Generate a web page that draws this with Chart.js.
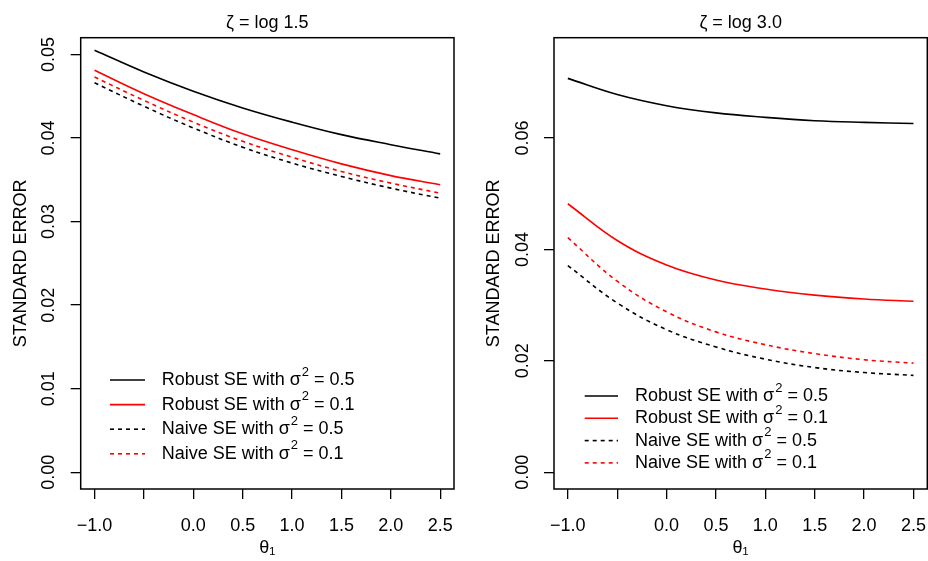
<!DOCTYPE html>
<html>
<head>
<meta charset="utf-8">
<script src="https://cdn.jsdelivr.net/npm/chart.js@4/dist/chart.umd.min.js"></script>
<style>
  html, body { margin: 0; padding: 0; background: #fff; }
  #wrap { position: relative; width: 928px; height: 561px; }
  .panel { position: absolute; top: 0; width: 464px; height: 561px; }
</style>
</head>
<body>
<div id="wrap">
  <div class="panel" style="left:0"><canvas id="c1" width="464" height="561"></canvas></div>
  <div class="panel" style="left:464px"><canvas id="c2" width="464" height="561"></canvas></div>
</div>
<script>
// ---------- data ----------
const thetaValues = [-1.0, -0.5, 0.0, 0.5, 1.0, 1.5, 2.0, 2.5];
const xTicks = [-1.0, -0.5, 0.0, 0.5, 1.0, 1.5, 2.0, 2.5];
const xTickLabels = ['\u22121.0', '', '0.0', '0.5', '1.0', '1.5', '2.0', '2.5'];
const seriesLabels = [
  'Robust SE with \u03c3\u00b2 = 0.5',
  'Robust SE with \u03c3\u00b2 = 0.1',
  'Naive SE with \u03c3\u00b2 = 0.5',
  'Naive SE with \u03c3\u00b2 = 0.1'
];
const panelTitles = ['\u03b6 = log 1.5', '\u03b6 = log 3.0'];
const xAxisTitle = '\u03b8\u2081';
const yAxisTitle = 'STANDARD ERROR';

// left panel (zeta = log 1.5)
const leftRobust05 = [0.0505, 0.0479, 0.0456, 0.0436, 0.0419, 0.0404, 0.0392, 0.0381];
const leftRobust01 = [0.0481, 0.0453, 0.0428, 0.0405, 0.0386, 0.0369, 0.0355, 0.0344];
const leftNaive05  = [0.0466, 0.0438, 0.0412, 0.0389, 0.0370, 0.0354, 0.0340, 0.0328];
const leftNaive01  = [0.0473, 0.0445, 0.0419, 0.0396, 0.0377, 0.0360, 0.0346, 0.0334];
const leftYTicks = [0.00, 0.01, 0.02, 0.03, 0.04, 0.05];
const leftYTickLabels = ['0.00', '0.01', '0.02', '0.03', '0.04', '0.05'];

// right panel (zeta = log 3.0)
const rightRobust05 = [0.0707, 0.0678, 0.0658, 0.0645, 0.0637, 0.0631, 0.0628, 0.0626];
const rightRobust01 = [0.0482, 0.0416, 0.0372, 0.0345, 0.0329, 0.0318, 0.0311, 0.0307];
const rightNaive05  = [0.0371, 0.0304, 0.0256, 0.0225, 0.0203, 0.0188, 0.0179, 0.0174];
const rightNaive01  = [0.0421, 0.0343, 0.0288, 0.0252, 0.0229, 0.0213, 0.0202, 0.0196];
const rightYTicks = [0.00, 0.02, 0.04, 0.06];
const rightYTickLabels = ['0.00', '0.02', '0.04', '0.06'];

// ---------- helpers ----------
const FONT = '"Liberation Sans", Arial, Helvetica, sans-serif';
const pts = vals => vals.map((v, i) => ({ x: thetaValues[i], y: v }));

const boxPlugin = {
  id: 'rBox',
  afterDatasetsDraw(chart) {
    const a = chart.chartArea, ctx = chart.ctx;
    ctx.save();
    ctx.strokeStyle = '#000';
    ctx.lineWidth = 1.5;
    ctx.setLineDash([]);
    ctx.strokeRect(a.left, a.top, a.right - a.left, a.bottom - a.top);
    ctx.restore();
  }
};

const legendPlugin = {
  id: 'rLegend',
  afterDraw(chart, args, opts) {
    const ctx = chart.ctx;
    ctx.save();
    chart.data.datasets.forEach((ds, i) => {
      const y = opts.y + i * opts.spacing;
      ctx.strokeStyle = ds.borderColor;
      ctx.lineWidth = ds.borderWidth;
      ctx.setLineDash(ds.borderDash || []);
      ctx.beginPath();
      ctx.moveTo(opts.x1, y);
      ctx.lineTo(opts.x2, y);
      ctx.stroke();
      ctx.setLineDash([]);
      const parts = ds.label.split('\u00b2');
      ctx.fillStyle = '#000';
      ctx.textBaseline = 'middle';
      ctx.textAlign = 'left';
      let x = opts.tx;
      ctx.font = '18px ' + FONT;
      ctx.fillText(parts[0], x, y);
      x += ctx.measureText(parts[0]).width;
      ctx.font = '13px ' + FONT;
      ctx.fillText('2', x + 1, y - 8);
      x += ctx.measureText('2').width + 1;
      ctx.font = '18px ' + FONT;
      ctx.fillText(parts[1], x, y);
    });
    ctx.restore();
  }
};

function makeChart(canvasId, cfg) {
  const datasets = [
    { label: seriesLabels[0], data: pts(cfg.series[0]), borderColor: '#000000', borderDash: [] },
    { label: seriesLabels[1], data: pts(cfg.series[1]), borderColor: '#ff0000', borderDash: [] },
    { label: seriesLabels[2], data: pts(cfg.series[2]), borderColor: '#000000', borderDash: [4, 4] },
    { label: seriesLabels[3], data: pts(cfg.series[3]), borderColor: '#ff0000', borderDash: [4, 4] }
  ].map(d => Object.assign(d, {
    borderWidth: 1.6, pointRadius: 0, fill: false, cubicInterpolationMode: 'default', tension: 0.4
  }));

  return new Chart(document.getElementById(canvasId), {
    type: 'line',
    data: { datasets },
    options: {
      responsive: false,
      animation: false,
      devicePixelRatio: 1,
      layout: { padding: { left: 0, right: cfg.padRight, top: 0, bottom: 0 } },
      plugins: {
        legend: { display: false },
        tooltip: { enabled: false },
        title: {
          display: true, text: cfg.title, fullSize: false, color: '#000',
          font: { family: FONT, size: 18, weight: 'normal' },
          padding: { top: 12.2, bottom: 3.9 }
        },
        rLegend: cfg.legend
      },
      scales: {
        x: {
          type: 'linear', min: -1.14, max: 2.64,
          afterBuildTicks: s => { s.ticks = xTicks.map(v => ({ value: v })); },
          afterFit: s => { s.height = 72; s.paddingLeft = 0; s.paddingRight = 0; },
          grid: { display: true, drawOnChartArea: false, drawTicks: true, tickLength: 10, color: '#000', lineWidth: 1.3 },
          border: { display: false },
          ticks: {
            autoSkip: false, maxRotation: 0, minRotation: 0, padding: 16, color: '#000',
            font: { family: FONT, size: 18 },
            callback: (v, i) => xTickLabels[i]
          },
          title: {
            display: true, text: xAxisTitle, color: '#000',
            font: { family: FONT, size: 18 }, padding: { top: 0, bottom: 2.5 }
          }
        },
        y: {
          type: 'linear', min: cfg.yMin, max: cfg.yMax,
          afterBuildTicks: s => { s.ticks = cfg.yTicks.map(v => ({ value: v })); },
          afterFit: s => { s.width = cfg.yWidth; s.paddingTop = 0; s.paddingBottom = 0; },
          grid: { display: true, drawOnChartArea: false, drawTicks: true, tickLength: 10, color: '#000', lineWidth: 1.3 },
          border: { display: false },
          ticks: {
            autoSkip: false, minRotation: 90, maxRotation: 90, crossAlign: 'center', padding: 3.7,
            color: '#000', font: { family: FONT, size: 18 },
            callback: (v, i) => cfg.yTickLabels[i]
          },
          title: {
            display: true, text: yAxisTitle, color: '#000',
            font: { family: FONT, size: 18 }, padding: { top: cfg.yTitlePad, bottom: 0 }
          }
        }
      }
    },
    plugins: [boxPlugin, legendPlugin]
  });
}

makeChart('c1', {
  title: panelTitles[0],
  series: [leftRobust05, leftRobust01, leftNaive05, leftNaive01],
  yMin: -0.002, yMax: 0.052,
  yTicks: leftYTicks, yTickLabels: leftYTickLabels,
  yWidth: 80.7, padRight: 10, yTitlePad: 10,
  legend: { x1: 110, x2: 145, tx: 161.7, y: 380, spacing: 24.6 }
});

makeChart('c2', {
  title: panelTitles[1],
  series: [rightRobust05, rightRobust01, rightNaive05, rightNaive01],
  yMin: -0.003, yMax: 0.078,
  yTicks: rightYTicks, yTickLabels: rightYTickLabels,
  yWidth: 90, padRight: 0.7, yTitlePad: 19.2,
  legend: { x1: 120.7, x2: 154, tx: 171, y: 396, spacing: 22.3 }
});
</script>
</body>
</html>
